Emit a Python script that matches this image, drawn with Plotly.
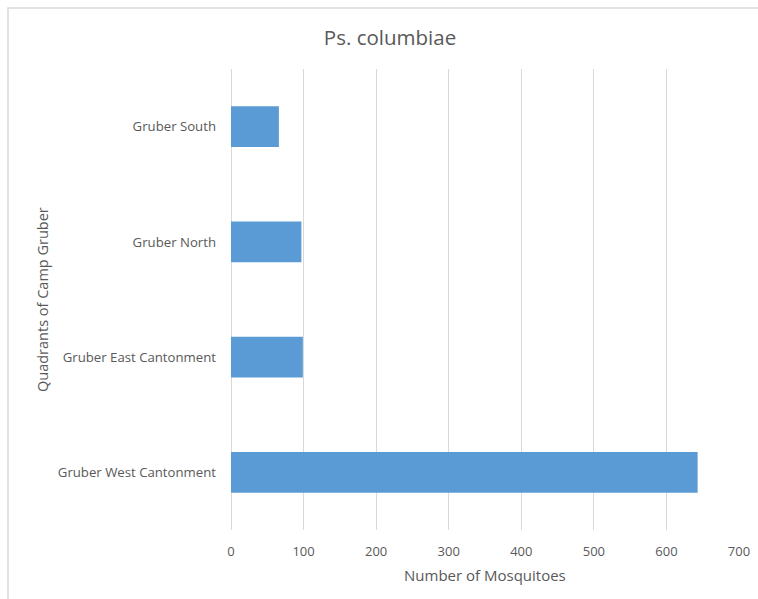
import plotly.graph_objects as go

categories = ["Gruber West Cantonment", "Gruber East Cantonment", "Gruber North", "Gruber South"]
values = [643, 99, 97, 66]
x_ticks = [0, 100, 200, 300, 400, 500, 600, 700]

W, H = 758, 599
L, R, T, B = 231, 19, 69, 69
pw = W - L - R
ph = H - T - B

def px_x(p):
    return (p - L) / pw

def px_y(p):
    return (H - B - p) / ph

font = "Open Sans, Liberation Sans, sans-serif"
gray = "#595959"

fig = go.Figure(go.Bar(
    x=values, y=categories, orientation="h",
    marker=dict(color="#5b9bd5", line=dict(width=0)),
    hoverinfo="x+y",
))

fig.update_layout(
    width=W, height=H,
    margin=dict(l=L, r=R, t=T, b=B, autoexpand=False),
    paper_bgcolor="white", plot_bgcolor="white",
    bargap=0.645,
    showlegend=False,
    font=dict(family=font, color=gray, size=13),
    title=dict(text="Ps. columbiae", x=390 / W, xanchor="center",
               y=1 - 38 / H, yanchor="middle",
               font=dict(size=20.5, color=gray, family=font)),
    xaxis=dict(range=[0, 700], tickvals=x_ticks, showgrid=True, gridcolor="#d9d9d9",
               gridwidth=1, zeroline=True, zerolinecolor="#d9d9d9", zerolinewidth=1,
               showline=False, ticks="", ticklabelstandoff=12, automargin=False,
               tickfont=dict(size=13, color=gray), fixedrange=True),
    yaxis=dict(categoryorder="array", categoryarray=categories, showgrid=False,
               showline=False, ticks="", ticklabelstandoff=14, automargin=False,
               tickfont=dict(size=13.2, color=gray), fixedrange=True),
    annotations=[
        dict(text="Quadrants of Camp Gruber", xref="paper", yref="paper",
             x=px_x(42), y=px_y(300), textangle=-90, showarrow=False,
             xanchor="center", yanchor="middle", font=dict(size=14.5, color=gray, family=font)),
        dict(text="Number of Mosquitoes", xref="paper", yref="paper",
             x=px_x(485), y=px_y(575), showarrow=False,
             xanchor="center", yanchor="middle", font=dict(size=15, color=gray, family=font)),
    ],
    shapes=[
        dict(type="rect", xref="paper", yref="paper",
             x0=px_x(8), x1=px_x(800), y0=px_y(640), y1=px_y(8),
             line=dict(color="#d9d9d9", width=1.5), fillcolor="rgba(0,0,0,0)", layer="below"),
    ],
)

fig.write_html("out.html")
